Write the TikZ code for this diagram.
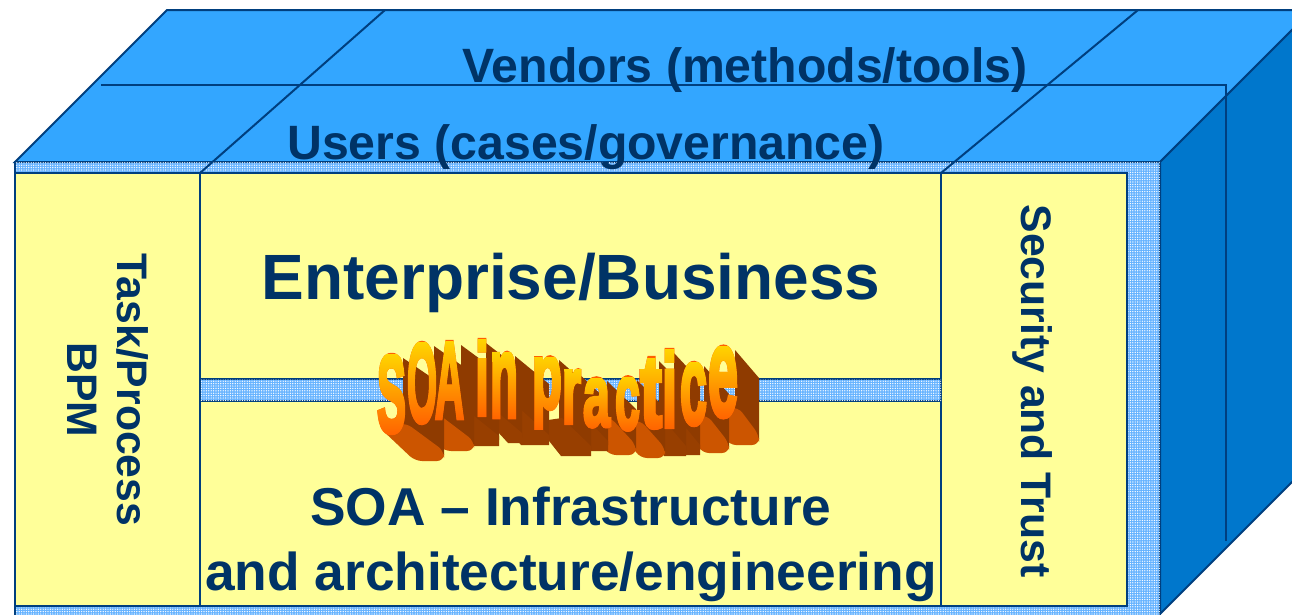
\documentclass[tikz,border=0pt]{standalone}
\usepackage{fontspec}
\usepackage{graphicx}
\setmainfont{Liberation Sans}
\newfontfamily\artfont{Liberation Sans}[BoldFeatures={FakeBold=4}]
\usetikzlibrary{patterns.meta, fadings}

\definecolor{topblue}{HTML}{33A6FF}
\definecolor{sideblue}{HTML}{0077CC}
\definecolor{panelyellow}{HTML}{FFFF99}
\definecolor{edgeblue}{HTML}{003F7F}
\definecolor{textblue}{HTML}{003366}
\definecolor{dotblue}{HTML}{66B3FF}
\definecolor{artdark}{HTML}{8F3B00}
\definecolor{artlight}{HTML}{CC5500}
\definecolor{artgold}{HTML}{FFD800}
\definecolor{artorange}{HTML}{FF6000}

\newcommand{\artglyph}[5]{\resizebox*{\the\dimexpr#4pt-#2pt\relax}{\the\dimexpr#5pt-#3pt\relax}{\artfont\bfseries #1}}
% gradient mask of one letter: name, glyph, box x1, y1, x2, y2
\newcommand{\artfade}[6]{
  \begin{tikzfadingfrompicture}[name=#1]
    \node [text=transparent!0, inner sep=0pt, outer sep=0pt] {\artglyph{#2}{#3}{#4}{#5}{#6}};
  \end{tikzfadingfrompicture}
}
% depth of one letter: box x1, y1, x2, y2, depth in x, style of its lower side
\newcommand{\artside}[6]{
  \path [fill=artdark] (#3-3,#2+3) -- (#3+#5,#2+31) -- (#3+#5,#4+22) -- (#3-3,#4-3) -- cycle;
  \path [#6] (#1+2,#4-6) -- (#1+#5,#4+28) -- (#3+#5,#4+28) -- (#3+#5,#4+18) -- (#3,#4-10) -- cycle;
}
% face of one letter: name, glyph, box x1, y1, x2, y2
\newcommand{\artletter}[6]{
  \node [artface] (#1) at ({(#3+#5)/2},{(#4+#6)/2}) {\artglyph{#2}{#3}{#4}{#5}{#6}};
  \shade [path fading=#1, fit fading=false,
    fading transform={xshift={(#3+#5)/2*1pt}, yshift={-(#4+#6)/2*1pt}},
    top color=artgold, bottom color=artorange]
    (#3-4,#4-4) rectangle (#5+4,#6+4);
}

\artfade{soa_s}{S}{377}{355}{406}{433}
\artfade{soa_o}{O}{407}{343}{437}{423}
\artfade{soa_a}{A}{435}{342}{464}{418}
\artfade{soa_i}{i}{475}{340}{489}{415}
\artfade{soa_n}{n}{490}{353}{518}{417}
\artfade{soa_p}{p}{532}{357}{562}{428}
\artfade{soa_r}{r}{562}{370}{581}{423}
\artfade{soa_b}{a}{583}{378}{610}{427}
\artfade{soa_c}{c}{615}{377}{640}{430}
\artfade{soa_t}{t}{640}{358}{662}{428}
\artfade{soa_j}{i}{662}{350}{677}{427}
\artfade{soa_d}{c}{680}{363}{707}{425}
\artfade{soa_e}{e}{708}{347}{738}{417}

\begin{document}
\begin{tikzpicture}[
  x=1pt, y=-1pt,
  edge/.style={draw=edgeblue, line width=2pt, line join=miter},
  dotted_strip/.style={edge, fill=dotblue, postaction={pattern={Dots[distance=2.4pt,radius=.7pt]}, pattern color=white}},
  panel/.style={rectangle, edge, fill=panelyellow, inner sep=0pt, outer sep=0pt},
  title_big/.style={text=textblue, font=\fontsize{64}{70}\selectfont\bfseries},
  title_top/.style={text=textblue, font=\fontsize{48.2}{60}\selectfont\bfseries},
  title_mid/.style={text=textblue, font=\fontsize{53.3}{65}\selectfont\bfseries, align=center},
  title_side/.style={text=textblue, font=\fontsize{42.7}{50}\selectfont\bfseries, align=center, rotate=-90},
  artface/.style={text=artorange, inner sep=0pt, outer sep=0pt},
  art_round/.style={fill=artlight, rounded corners=7pt},
  art_flat/.style={fill=artdark!85!artlight}
  ]

\useasboundingbox (0,0) rectangle (1292,614);
\clip (0,0) rectangle (1292,614);

\coordinate (front_tl) at (15,162);
\coordinate (front_tr) at (1160,162);
\coordinate (back_tl) at (167,10);
\coordinate (back_tr) at (1300,10);
\coordinate (div_l) at (200,173);
\coordinate (div_r) at (941,173);

% box faces
\path [edge, fill=topblue] (front_tl) -- (back_tl) -- (back_tr) -- (1300,22) -- (front_tr) -- cycle;
\path [edge, fill=sideblue] (front_tr) -- (1300,22) -- (1300,474) -- (1160,614) -- cycle;
\path [dotted_strip] (front_tl) rectangle (1160,630);

% lines of the top face
\draw [edge] (div_l) -- (385,10);
\draw [edge] (div_r) -- (1138,10);
\draw [edge] (101,85) -- (1226,85) -- (1226,541);

% front panels
\node [panel, minimum width=185pt, minimum height=433pt] (task) at (107.5,389.5) {};
\node [panel, minimum width=741pt, minimum height=206pt] (enterprise) at (570.5,276) {};
\node [panel, minimum width=741pt, minimum height=205pt] (infra) at (570.5,503.5) {};
\node [panel, minimum width=186pt, minimum height=433pt] (security) at (1034,389.5) {};
\path [dotted_strip] (enterprise.south west) rectangle (infra.north east);

% texts
\node [title_top] (vendors) at (745,70) {Vendors (methods/tools)};
\node [title_top] (users) at (586,147) {Users (cases/governance)};
\node [title_big] (enterprise_txt) at (571,283) {Enterprise/Business};
\node [title_mid] (infra_txt) at (571,544) {SOA -- Infrastructure\\and architecture/engineering};
\node [title_side] (task_txt) at (108,390) {Task/Process\\BPM};
\node [title_side] (security_txt) at (1033,391) {Security and Trust};

% banner depth, from the last letter back to the first
\artside{708}{347}{738}{417}{21}{art_round}
\artside{680}{363}{707}{425}{22}{art_round}
\artside{662}{350}{677}{427}{23}{art_flat}
\artside{640}{358}{662}{428}{24}{art_flat}
\artside{615}{377}{640}{430}{25}{art_round}
\artside{583}{378}{610}{427}{26}{art_round}
\artside{562}{370}{581}{423}{27}{art_flat}
\artside{532}{357}{562}{428}{29}{art_flat}
\artside{490}{353}{518}{417}{31}{art_flat}
\artside{475}{340}{489}{415}{33}{art_flat}
\artside{435}{342}{464}{418}{35}{art_flat}
\artside{407}{343}{437}{423}{37}{art_round}
\artside{377}{355}{406}{433}{38}{art_round}

% banner faces
\artletter{soa_s}{S}{377}{355}{406}{433}
\artletter{soa_o}{O}{407}{343}{437}{423}
\artletter{soa_a}{A}{435}{342}{464}{418}
\artletter{soa_i}{i}{475}{340}{489}{415}
\artletter{soa_n}{n}{490}{353}{518}{417}
\artletter{soa_p}{p}{532}{357}{562}{428}
\artletter{soa_r}{r}{562}{370}{581}{423}
\artletter{soa_b}{a}{583}{378}{610}{427}
\artletter{soa_c}{c}{615}{377}{640}{430}
\artletter{soa_t}{t}{640}{358}{662}{428}
\artletter{soa_j}{i}{662}{350}{677}{427}
\artletter{soa_d}{c}{680}{363}{707}{425}
\artletter{soa_e}{e}{708}{347}{738}{417}
\end{tikzpicture}
\end{document}
